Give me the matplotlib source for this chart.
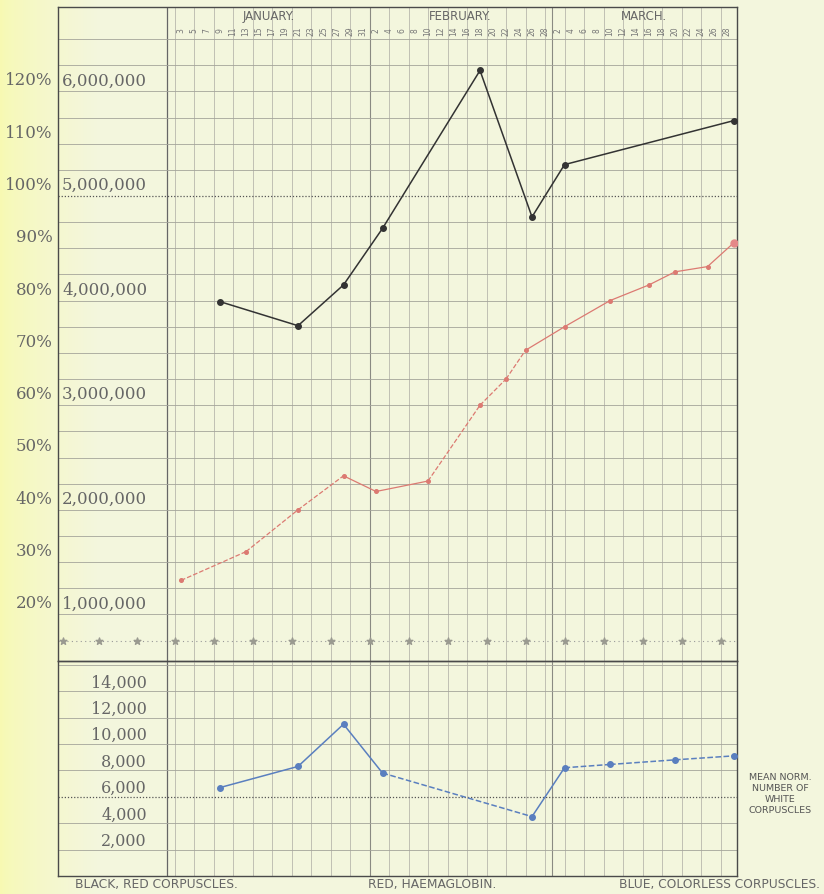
import numpy as np
import matplotlib.pyplot as plt
from matplotlib.transforms import blended_transform_factory

red_dates = ['01-09', '01-21', '01-28', '02-03', '02-18', '02-26', '03-03', '03-29']
red_counts = [3990000, 3760000, 4150000, 4690000, 6200000, 4800000, 5300000, 5720000]

hb_dates = ['01-03', '01-13', '01-21', '01-28', '02-02', '02-10', '02-18', '02-22',
            '02-25', '03-03', '03-10', '03-16', '03-20', '03-25', '03-29']
hb_pct = [26.5, 32, 40, 46.5, 43.5, 45.5, 60, 65, 70.5, 75, 80, 83, 85.5, 86.5, 91]

white_dates = ['01-09', '01-21', '01-28', '02-03', '02-26', '03-03', '03-10', '03-20', '03-29']
white_counts = [6700, 8300, 11500, 7800, 4500, 8200, 8450, 8800, 9100]

pct_ticks = [20, 30, 40, 50, 60, 70, 80, 90, 100, 110, 120]
million_ticks = [20, 40, 60, 80, 100, 120]
million_labels = ['1,000,000', '2,000,000', '3,000,000', '4,000,000', '5,000,000', '6,000,000']
white_ticks = [2, 4, 6, 8, 10, 12, 14]
white_labels = ['2,000', '4,000', '6,000', '8,000', '10,000', '12,000', '14,000']
months = ['JANUARY.', 'FEBRUARY.', 'MARCH.']
jan_days = list(range(3, 32, 2))
feb_days = list(range(2, 29, 2))
mar_days = list(range(2, 29, 2))

# line styles per segment (faded print: some parts look broken)
hb_ls = ['--', '--', '--', '-', '-', '--', '--', '--', '-', '-', '-', '-', '-', '-']
white_ls = ['-', '-', '-', '--', '-', '--', '--', '--']


def day(s):
    return int((np.datetime64('1890-' + s) - np.datetime64('1890-01-03')).astype(int))


W, H = 824, 895
PX = 6.5      # pixels per day
X0 = 181      # pixel of Jan 3


def rect(x0, y0, x1, y1):
    return [x0 / W, 1 - y1 / H, (x1 - x0) / W, (y1 - y0) / H]


def px2day(x):
    return (x - X0) / PX


fig = plt.figure(figsize=(W / 100, H / 100), dpi=100)
fig.patch.set_facecolor('#f2f4da')

# paper background, yellower on the left
bg = fig.add_axes([0, 0, 1, 1], zorder=-10)
t = np.linspace(0, 1, 400)
w = np.clip(t / 0.12, 0, 1) ** 0.7
left = np.array([0.97, 0.98, 0.70])
right = np.array([0.955, 0.965, 0.87])
row = left[None, :] * (1 - w[:, None]) + right[None, :] * w[:, None]
bg.imshow(row[None, :, :], aspect='auto', extent=[0, 1, 0, 1])
bg.axis('off')

ax = fig.add_axes(rect(58, 8, 737, 662))
ax2 = fig.add_axes(rect(58, 662, 737, 877))
xl = (px2day(58), px2day(737))
col_edge = px2day(167)
month_edges = [29, 57]
grid_x = [-1 + 3 * k for k in range(29)]

gcol = '#a4a49a'
for a in (ax, ax2):
    a.set_facecolor('none')
    a.set_xlim(*xl)
    a.set_xticks([])
    a.set_yticks([])
    for s in a.spines.values():
        s.set_color('#4a4a4a')
        s.set_linewidth(1.0)
    for gx in grid_x:
        a.axvline(gx, color='#b2b2a8', lw=0.55, zorder=1)
    for mx in month_edges:
        a.axvline(mx, color='#8a8a82', lw=0.8, zorder=1)
    a.axvline(col_edge, color='#666', lw=0.9, zorder=1)

# ---- top panel: red corpuscles and haemoglobin
ax.set_ylim(100 - (662 - 197) / 5.23, 100 + (197 - 8) / 5.23)
for v in range(20, 135, 5):
    if v == 100:
        ax.axhline(v, color='#555', lw=0.9, ls=(0, (1, 1.5)), zorder=1)
    else:
        ax.axhline(v, color=gcol, lw=0.6, zorder=1)

# star row
ax.axhline(15, color='#999', lw=0.8, ls=(0, (1, 3)), zorder=1)
star_x = [px2day(p) for p in (63, 99, 137)] + [-1 + 6 * k for k in range(15)]
ax.scatter(star_x, [15] * len(star_x), marker='*', s=26, color='#9a9a90', zorder=3)

tr = blended_transform_factory(ax.transAxes, ax.transData)
for v in pct_ticks:
    ax.text(-0.008, v + 2.2, f'{v}%', transform=tr, ha='right', va='center',
            fontsize=12, family='DejaVu Serif', color='#666')
for v, lab in zip(million_ticks, million_labels):
    ax.text(px2day(62), v + 2.2, lab, ha='left', va='center',
            fontsize=12, family='DejaVu Serif', color='#666')

# header: months and days
for lab, a, b in zip(months, [col_edge] + month_edges, month_edges + [xl[1]]):
    ax.text((a + b) / 2, 100 + (197 - 17) / 5.23, lab, ha='center', va='center',
            fontsize=8.5, color='#666')
day_pos = [d - 3 for d in jan_days] + [d + 28 for d in feb_days] + [d + 56 for d in mar_days]
day_lab = jan_days + feb_days + mar_days
for p, d in zip(day_pos, day_lab):
    ax.text(p, 100 + (197 - 31) / 5.23, str(d), ha='center', va='center',
            rotation=90, fontsize=5.5, color='#777')

rx = [day(d) for d in red_dates]
ry = [c / 50000 for c in red_counts]
ax.plot(rx, ry, color='#333', lw=1.1, marker='o', ms=4, zorder=4)

hx = [day(d) for d in hb_dates]
for i in range(len(hx) - 1):
    ax.plot(hx[i:i + 2], hb_pct[i:i + 2], color='#dc7a72', lw=0.9, ls=hb_ls[i], zorder=4)
ax.plot(hx, hb_pct, ls='none', marker='o', ms=2.6, color='#dc7a72', zorder=5)
ax.plot(hx[-1], hb_pct[-1], ls='none', marker='o', ms=5, color='#e48888', zorder=5)

# ---- bottom panel: white corpuscles
ax2.set_ylim(0, (877 - 662) / 13.2)
for v in range(2, 17, 2):
    if v == 6:
        ax2.axhline(v, color='#555', lw=0.9, ls=(0, (1, 1.5)), zorder=1)
    else:
        ax2.axhline(v, color=gcol, lw=0.6, zorder=1)
for v, lab in zip(white_ticks, white_labels):
    ax2.text(px2day(147), v + 0.7, lab, ha='right', va='center',
             fontsize=11.5, family='DejaVu Serif', color='#666')

wx = [day(d) for d in white_dates]
wy = [c / 1000 for c in white_counts]
for i in range(len(wx) - 1):
    ax2.plot(wx[i:i + 2], wy[i:i + 2], color='#5a7fbf', lw=1.1, ls=white_ls[i], zorder=4)
ax2.plot(wx, wy, ls='none', marker='o', ms=4, color='#5a7fbf', zorder=5)

fig.text(780 / W, 1 - 794 / H, 'MEAN NORM.\nNUMBER OF\nWHITE\nCORPUSCLES', ha='center',
         va='center', fontsize=6.8, color='#555', linespacing=1.3)

# ---- legend line at the bottom
fy = 1 - 885 / H
fig.text(75 / W, fy, 'BLACK, RED CORPUSCLES.', ha='left', va='center', fontsize=8.8, color='#666')
fig.text(432 / W, fy, 'RED, HAEMAGLOBIN.', ha='center', va='center', fontsize=8.8, color='#666')
fig.text(820 / W, fy, 'BLUE, COLORLESS CORPUSCLES.', ha='right', va='center', fontsize=8.8, color='#666')

fig.savefig('out.png', dpi=100, facecolor=fig.get_facecolor())
